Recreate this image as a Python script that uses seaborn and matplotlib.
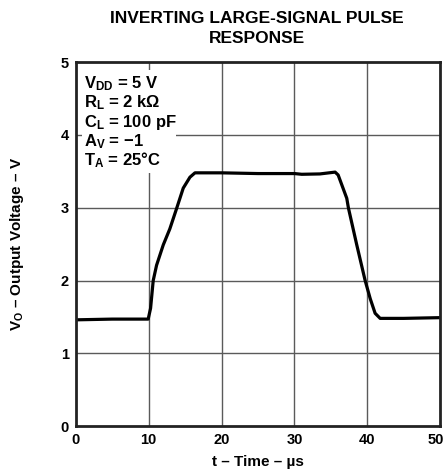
import matplotlib
matplotlib.use("Agg")
import matplotlib.pyplot as plt
import matplotlib.transforms as mtransforms
from matplotlib.patches import Rectangle
import seaborn as sns

# --- datos ---
t_us = [0, 5, 9.93, 10.26, 10.62, 11.08, 12.0, 12.9, 13.83, 14.74, 15.66, 16.35, 20, 25, 30, 31,
        33.5, 35.58, 36.0, 37.18, 37.4, 38.55, 39.7, 40.4, 41.07, 41.76, 45, 50]
vo = [1.46, 1.47, 1.47, 1.62, 2.0, 2.21, 2.49, 2.71, 2.99, 3.27, 3.42, 3.48, 3.48, 3.47, 3.47, 3.46,
      3.465, 3.49, 3.45, 3.13, 3.0, 2.49, 2.0, 1.75, 1.55, 1.48, 1.48, 1.49]
x_ticks = [0, 10, 20, 30, 40, 50]
y_ticks = [0, 1, 2, 3, 4, 5]
condiciones = [r"$\mathbf{V_{DD}}$ = 5 V", r"$\mathbf{R_{L}}$ = 2 k$\mathbf{\Omega}$",
               r"$\mathbf{C_{L}}$ = 100 pF", "$\\mathbf{A_{V}}$ = \u22121", "$\\mathbf{T_{A}}$ = 25\u00b0C"]
titulo = ["INVERTING LARGE-SIGNAL PULSE", "RESPONSE"]

sns.set_style("white")
plt.rcParams["font.family"] = ["Liberation Sans", "DejaVu Sans"]
plt.rcParams["font.weight"] = "bold"
plt.rcParams["text.color"] = "black"
plt.rcParams["axes.labelcolor"] = "black"
plt.rcParams["xtick.color"] = "black"
plt.rcParams["ytick.color"] = "black"
plt.rcParams["mathtext.fontset"] = "custom"
plt.rcParams["mathtext.bf"] = "Liberation Sans:bold"
plt.rcParams["mathtext.rm"] = "Liberation Sans:bold"
plt.rcParams["mathtext.it"] = "Liberation Sans:bold"

fig = plt.figure(figsize=(4.46, 4.75), dpi=100)
ax = fig.add_axes([0.170, 0.103, 0.817, 0.766])

for xv in x_ticks[1:-1]:
    ax.axvline(xv, color="#5a5a5a", lw=1.0, zorder=1)
for yv in y_ticks[1:-1]:
    ax.axhline(yv, color="#5a5a5a", lw=1.0, zorder=1)

sns.lineplot(x=t_us, y=vo, color="black", lw=2.3, sort=False, estimator=None, ax=ax, zorder=3)

ax.set_xlim(0, 50)
ax.set_ylim(0, 5)
ax.set_xticks(x_ticks)
ax.set_yticks(y_ticks)
ax.tick_params(length=0, labelsize=10.5, pad=5)
for lab in ax.get_xticklabels() + ax.get_yticklabels():
    lab.set_fontweight("bold")
# el "50" queda pegado al borde: moverlo un poco a la izquierda
ultimo = ax.get_xticklabels()[-1]
ultimo.set_transform(ultimo.get_transform() + mtransforms.ScaledTranslation(-4 / 100, 0, fig.dpi_scale_trans))
for s in ax.spines.values():
    s.set_color("#222222")
    s.set_linewidth(2)
    s.set_zorder(5)

# caja blanca detras de las condiciones
ax.add_patch(Rectangle((0.8, 3.475), 12.9, 1.415, facecolor="white", edgecolor="none", zorder=2))
for i, c in enumerate(condiciones):
    ax.text(1.1, 4.64 - i * 0.264, c, fontsize=12, fontweight="bold", va="baseline", ha="left", zorder=4)

ax.set_xlabel("t \u2013 Time \u2013 \u00b5s", fontsize=11, fontweight="bold", labelpad=6)
ax.set_ylabel("$\\mathbf{V_{O}}$ \u2013 Output Voltage \u2013 V", fontsize=11, fontweight="bold", labelpad=25)
fig.text(0.575, 0.952, titulo[0], fontsize=12.5, fontweight="bold", ha="center", va="baseline")
fig.text(0.575, 0.909, titulo[1], fontsize=12.5, fontweight="bold", ha="center", va="baseline")

fig.savefig("out.png", dpi=100)
